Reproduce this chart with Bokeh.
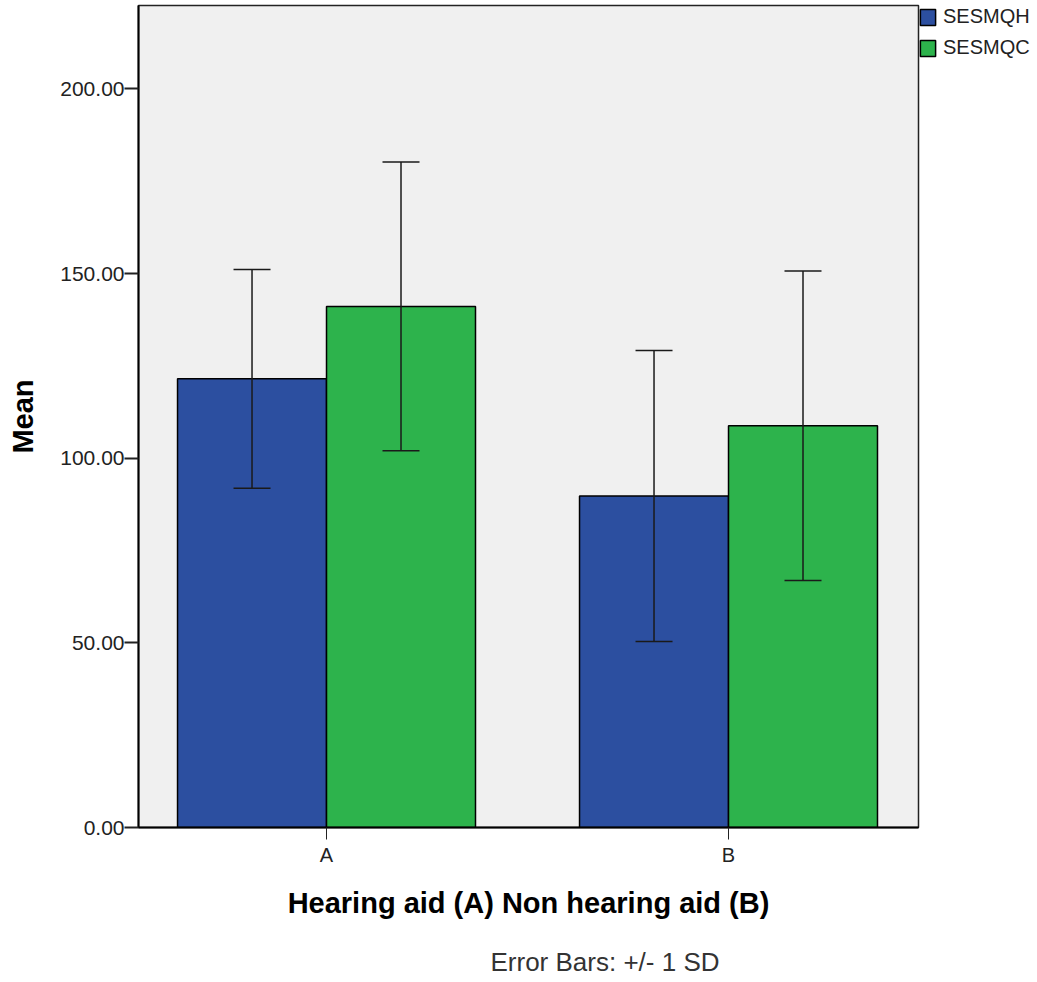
from bokeh.plotting import figure
from bokeh.models import (ColumnDataSource, Range1d, FixedTicker, NumeralTickFormatter,
                          Whisker, TeeHead, Legend, LegendItem, Title)
from bokeh.embed import file_html
from bokeh.resources import INLINE

# ---- data ----
categories = ["A", "B"]
series_names = ["SESMQH", "SESMQC"]
mean_h = [121.5, 89.8]
mean_c = [141.1, 108.8]
sd_h = [29.6, 39.4]
sd_c = [39.1, 41.9]
y_ticks = [0, 50, 100, 150, 200]

FONT = "Liberation Sans"
BLUE = "#2C4FA0"
GREEN = "#2DB34C"

idx = list(range(len(categories)))
off = 0.1853
bw = 0.3706

src_h = ColumnDataSource(dict(
    x=[i - off for i in idx], top=mean_h,
    upper=[m + s for m, s in zip(mean_h, sd_h)],
    lower=[m - s for m, s in zip(mean_h, sd_h)]))
src_c = ColumnDataSource(dict(
    x=[i + off for i in idx], top=mean_c,
    upper=[m + s for m, s in zip(mean_c, sd_c)],
    lower=[m - s for m, s in zip(mean_c, sd_c)]))

p = figure(frame_width=780, frame_height=822, output_backend="svg", toolbar_location=None,
           x_range=Range1d(-0.4677, 1.4726), y_range=Range1d(0, 222.6),
           min_border_left=138, min_border_right=0, min_border_top=5, min_border_bottom=155)

p.background_fill_color = "#F0F0F0"
p.border_fill_color = "white"
p.outline_line_color = "#222222"
p.outline_line_width = 1.5
p.xgrid.visible = False
p.ygrid.visible = False

r_h = p.vbar(x="x", top="top", width=bw, source=src_h, fill_color=BLUE,
             line_color="black", line_width=1.5)
r_c = p.vbar(x="x", top="top", width=bw, source=src_c, fill_color=GREEN,
             line_color="black", line_width=1.5)

for src in (src_h, src_c):
    w = Whisker(base="x", upper="upper", lower="lower", source=src,
                line_color="#1a1a1a", line_width=1.5, level="overlay",
                upper_head=TeeHead(size=37, line_color="#1a1a1a", line_width=1.5),
                lower_head=TeeHead(size=37, line_color="#1a1a1a", line_width=1.5))
    p.add_layout(w)

# y axis
yax = p.yaxis[0]
yax.ticker = FixedTicker(ticks=y_ticks)
yax.formatter = NumeralTickFormatter(format="0.00")
yax.axis_label = "Mean"
yax.axis_label_text_font = FONT
yax.axis_label_text_font_style = "bold"
yax.axis_label_text_font_size = "29px"
yax.axis_label_text_color = "black"
yax.axis_label_standoff = 18
yax.major_label_text_font = FONT
yax.major_label_text_font_size = "21px"
yax.major_label_text_color = "#222222"
yax.major_label_standoff = 0
yax.major_tick_in = 0
yax.major_tick_out = 14
yax.major_tick_line_width = 2
yax.major_tick_line_color = "#222222"
yax.minor_tick_line_color = None
yax.axis_line_color = "black"
yax.axis_line_width = 2

# x axis
xax = p.xaxis[0]
xax.ticker = FixedTicker(ticks=idx)
xax.major_label_overrides = {i: c for i, c in zip(idx, categories)}
xax.axis_label = "Hearing aid (A) Non hearing aid (B)"
xax.axis_label_text_font = FONT
xax.axis_label_text_font_style = "bold"
xax.axis_label_text_font_size = "29px"
xax.axis_label_text_color = "black"
xax.axis_label_standoff = 18
xax.major_label_text_font = FONT
xax.major_label_text_font_size = "20px"
xax.major_label_text_color = "#222222"
xax.major_label_standoff = 4
xax.major_tick_in = 0
xax.major_tick_out = 12
xax.major_tick_line_color = "#222222"
xax.minor_tick_line_color = None
xax.axis_line_color = "black"
xax.axis_line_width = 2

legend = Legend(items=[LegendItem(label=series_names[0], renderers=[r_h]),
                       LegendItem(label=series_names[1], renderers=[r_c])],
                location="top_left", margin=0, padding=4, spacing=8,
                glyph_width=19, glyph_height=20, label_standoff=6, label_width=86,
                label_text_font=FONT, label_text_font_size="20px",
                label_text_color="#222222", border_line_color=None,
                background_fill_alpha=0)
p.add_layout(legend, "right")

note = Title(text="Error Bars: +/- 1 SD", text_font=FONT, text_font_size="26px",
             text_font_style="normal", text_color="#333333", align="left",
             offset=352, standoff=47)
p.add_layout(note, "below")

open("out.html", "w").write(file_html(p, INLINE))
